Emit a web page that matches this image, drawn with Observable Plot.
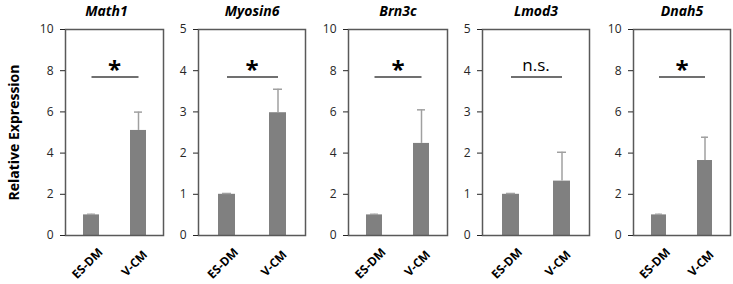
<!DOCTYPE html>
<html>
<head>
<meta charset="utf-8">
<script src="https://cdn.jsdelivr.net/npm/d3@7"></script>
<script src="https://cdn.jsdelivr.net/npm/@observablehq/plot@0.6"></script>
<style>
  body { margin: 0; background: white; }
  #wrap { position: relative; width: 733px; height: 284px; font-family: "Open Sans", sans-serif; }
  #wrap svg { position: absolute; top: 0; }
</style>
</head>
<body>
<div id="wrap"></div>
<script>
// ---- data ----
const genes = ["Math1", "Myosin6", "Brn3c", "Lmod3", "Dnah5"];
const groups = ["ES-DM", "V-CM"];
const esdmValues = [1.0, 1.0, 1.0, 1.0, 1.0];
const esdmErrors = [0.03, 0.02, 0.03, 0.02, 0.03];
const vcmValues = [5.1, 2.98, 4.47, 1.32, 3.64];
const vcmErrors = [0.89, 0.57, 1.63, 0.70, 1.13];
const yMaxes = [10, 5, 10, 5, 10];
const yTickSteps = [2, 1, 2, 1, 2];
const sigLabels = ["*", "*", "*", "n.s.", "*"];
const sigLevels = [7.7, 3.85, 7.7, 3.85, 7.7];
const yAxisTitle = "Relative Expression";

// ---- layout ----
const frameLefts = [65, 198, 348, 482, 633];
const frameRights = [163, 305, 447, 589, 730];
const H = 284, MT = 29, MB = 49;

const wrap = document.getElementById("wrap");

genes.forEach((gene, i) => {
  const ml = i === 0 ? 65 : 45;
  const mr = 3;
  const fw = frameRights[i] - frameLefts[i];
  const rows = [
    {group: groups[0], value: esdmValues[i], err: esdmErrors[i]},
    {group: groups[1], value: vcmValues[i], err: vcmErrors[i]}
  ];
  const ticks = d3.range(0, yMaxes[i] + 1e-9, yTickSteps[i]);
  const isStar = sigLabels[i] === "*";
  const marks = [
    Plot.barY(rows, {x: "group", y: "value", fill: "#808080"}),
    Plot.ruleX(rows, {x: "group", y1: "value", y2: d => d.value + d.err, stroke: "#a0a0a0", strokeWidth: 1.5}),
    Plot.tickY(rows, {x: "group", y: d => d.value + d.err, stroke: "#a0a0a0", strokeWidth: 1.5, inset: 4}),
    Plot.frame({stroke: "#595959", strokeWidth: 1.5}),
    Plot.axisY({ticks, tickSize: 5, tickPadding: 7, fontSize: 12, tickFormat: d => d, color: "#262626", label: null}),
    Plot.text(groups, {x: d => d, frameAnchor: "bottom", dy: 28, dx: -4, rotate: -45, text: d => d,
      textAnchor: "middle", lineAnchor: "middle", fontWeight: "bold", fontSize: 12, fill: "#000"}),
    Plot.link([sigLevels[i]], {x1: () => groups[0], x2: () => groups[1], y1: d => d, y2: d => d,
      stroke: "#404040", strokeWidth: 1.5}),
    Plot.text([sigLabels[i]], {y: () => sigLevels[i], text: d => d, lineAnchor: "bottom",
      dy: isStar ? 1 : -6, fontSize: isStar ? 24 : 17, fontWeight: isStar ? "bold" : "normal", fill: "#000"}),
    Plot.text([gene], {frameAnchor: "top", dy: -14, dx: i === 0 ? -8 : 0, lineAnchor: "bottom", text: d => d,
      textAnchor: "middle", fontWeight: "bold", fontStyle: "italic", fontSize: 14, fill: "#000"})
  ];
  if (i === 0) {
    marks.push(Plot.text([yAxisTitle], {frameAnchor: "left", dx: -51, rotate: -90, text: d => d,
      textAnchor: "middle", lineAnchor: "middle", fontWeight: "bold", fontSize: 14, fill: "#000"}));
  }
  const chart = Plot.plot({
    width: ml + fw + mr,
    height: H,
    marginLeft: ml,
    marginRight: mr,
    marginTop: MT,
    marginBottom: MB,
    style: {background: "none", overflow: "visible", fontFamily: "Open Sans, sans-serif"},
    x: {type: "band", domain: groups, paddingInner: 0.67, paddingOuter: 0.37, axis: null},
    y: {domain: [0, yMaxes[i]], axis: null},
    marks
  });
  chart.style.left = (frameLefts[i] - ml) + "px";
  wrap.appendChild(chart);
});
</script>
</body>
</html>
